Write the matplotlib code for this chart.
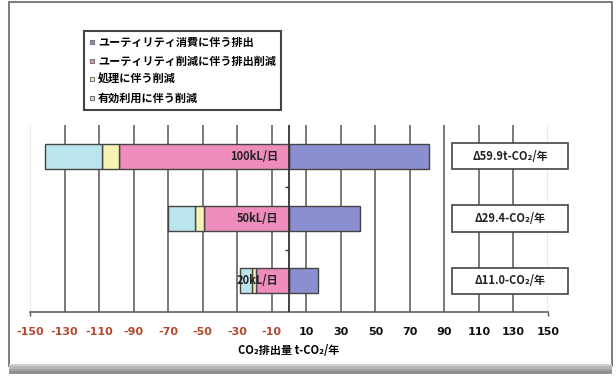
import matplotlib.pyplot as plt
from matplotlib.lines import Line2D
from matplotlib.patches import Rectangle

plt.rcParams['font.family'] = ['Noto Sans CJK JP', 'DejaVu Sans']

# data (t-CO2/year)
plants = ['100kL/日', '50kL/日', '20kL/日']
utility_emission = [81.0, 41.3, 17.0]
utility_reduction = [-98.4, -49.0, -19.0]
treatment_reduction = [-9.7, -5.2, -2.3]
reuse_reduction = [-33.3, -16.1, -7.2]
net_labels = ['Δ59.9t-CO₂/年', 'Δ29.4-CO₂/年', 'Δ11.0-CO₂/年']
series_names = ['ユーティリティ消費に伴う排出', 'ユーティリティ削減に伴う排出削減',
                '処理に伴う削減', '有効利用に伴う削減']
tick_values = [-150, -130, -110, -90, -70, -50, -30, -10, 10, 30, 50, 70, 90, 110, 130, 150]

colors = ['#8b8fcf', '#ee8cbc', '#f6f2b4', '#bce4ec']
edge = '#444444'
neg_color = '#b5482c'

W, H = 616, 376
fig = plt.figure(figsize=(W / 100, H / 100), dpi=100)

# page frame and bottom shadow
fig.add_artist(Rectangle((9 / W, 10 / H), 603 / W, 364 / H, transform=fig.transFigure,
                         facecolor='white', edgecolor='#666666', lw=1.2, zorder=0))
for i, c in enumerate(['#d0d0d0', '#b8b8b8', '#a0a0a0', '#909090']):
    fig.add_artist(Rectangle((9 / W, (10 - i * 2.5) / H), 603 / W, 2.5 / H,
                             transform=fig.transFigure, facecolor=c, lw=0, zorder=0))

ax = fig.add_axes([30 / W, (H - 312) / H, 518 / W, 187 / H])
ax.set_facecolor('none')

y = [0.5, 1.5, 2.5]
h = 0.4
ax.barh(y, utility_emission, height=h, color=colors[0], edgecolor=edge, lw=1, zorder=3)
ax.barh(y, utility_reduction, height=h, color=colors[1], edgecolor=edge, lw=1, zorder=3)
left2 = [a for a in utility_reduction]
ax.barh(y, treatment_reduction, left=left2, height=h, color=colors[2], edgecolor=edge, lw=1, zorder=3)
left3 = [a + b for a, b in zip(utility_reduction, treatment_reduction)]
ax.barh(y, reuse_reduction, left=left3, height=h, color=colors[3], edgecolor=edge, lw=1, zorder=3)

for yi, name in zip(y, plants):
    ax.text(-6, yi, name, ha='right', va='center', fontsize=8, fontweight='bold',
            color='#222222', zorder=4)

# net reduction boxes on the right
for yi, lab in zip(y, net_labels):
    ax.add_patch(Rectangle((94.5, yi - 0.21), 67, 0.42, facecolor='white', edgecolor=edge,
                           lw=1.2, zorder=5, clip_on=False))
    ax.text(128, yi, lab, ha='center', va='center', fontsize=8, fontweight='bold',
            color='#222222', zorder=6, clip_on=False)

# zero axis with category separators
ax.axvline(0, color='#333333', lw=1.3, zorder=4)
ax.plot([0, 0], [1, 2], ls='none', marker=0, ms=3, mew=1, color='#333333', zorder=4)

ax.set_xlim(-150, 150)
ax.set_ylim(3, 0)
ax.set_yticks([])
ax.set_xticks(tick_values)
ax.set_xticklabels([str(v) for v in tick_values], fontsize=8, fontweight='bold',
                   family=['DejaVu Sans'])
for lbl, v in zip(ax.get_xticklabels(), tick_values):
    lbl.set_color(neg_color if v < 0 else '#111111')
ax.tick_params(axis='x', length=0, pad=11)
ax.grid(axis='x', color='#555555', lw=1.1, zorder=0)
gl = ax.get_xgridlines()
gl[0].set_color('#e4e4e4')
gl[-1].set_color('#e4e4e4')
for s in ['top', 'left', 'right']:
    ax.spines[s].set_visible(False)
ax.spines['bottom'].set_color('#555555')
ax.spines['bottom'].set_linewidth(1.1)
ax.plot([-150, 150], [3, 3], ls='none', marker=3, ms=3, mew=1, color='#555555', clip_on=False)
ax.set_xlabel('CO₂排出量 t-CO₂/年', fontsize=8, fontweight='bold', labelpad=5)

handles = [Line2D([], [], ls='none', marker='s', ms=3.5, markerfacecolor=c,
                  markeredgecolor='#777777', mew=0.8) for c in colors]
leg = fig.legend(handles, series_names, loc='upper left',
                 bbox_to_anchor=(84 / W, 1 - 31 / H), borderaxespad=0,
                 fancybox=False, edgecolor='#444444', framealpha=1,
                 prop={'size': 8, 'weight': 'bold'}, handlelength=0.6,
                 handletextpad=0.2, labelspacing=0.5, borderpad=0.45)
leg.get_frame().set_linewidth(1.5)

fig.savefig('out.png', dpi=100)
